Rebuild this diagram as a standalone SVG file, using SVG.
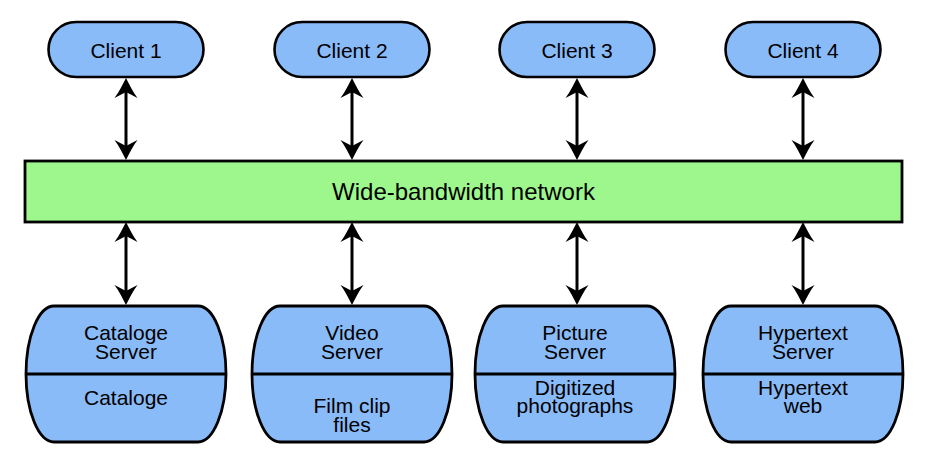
<svg xmlns="http://www.w3.org/2000/svg" width="930" height="462" viewBox="0 0 930 462">
<defs>
<style>
.client{fill:#88bbf8;stroke:#000;stroke-width:2.6}
.server{fill:#88bbf8;stroke:#000;stroke-width:2.8}
.net{fill:#9df78d;stroke:#000;stroke-width:2.8}
.div{stroke:#000;stroke-width:2.8;fill:none}
.t{font-family:"Liberation Sans",Arial,sans-serif;font-size:21px;fill:#000;text-anchor:middle}
.tn{font-family:"Liberation Sans",Arial,sans-serif;font-size:24px;fill:#000;text-anchor:middle}
.conn{stroke:#000;stroke-width:3;fill:none;marker-start:url(#ah);marker-end:url(#ah)}
</style>
<marker id="ah" viewBox="-22 -12 24 24" refX="-12" refY="0" markerWidth="24" markerHeight="24" markerUnits="userSpaceOnUse" orient="auto-start-reverse" overflow="visible">
<path d="M0,0 C-6,-3 -14,-7 -20,-11.5 L-14,0 L-20,11.5 C-14,7 -6,3 0,0 Z" fill="#000"/>
</marker>
</defs>
<rect width="930" height="462" fill="#fff"/>

<g id="connectors">
<path class="conn" d="M126,90 L126,148"/>
<path class="conn" d="M352,90 L352,148"/>
<path class="conn" d="M577,90 L577,148"/>
<path class="conn" d="M803,90 L803,148"/>
<path class="conn" d="M126,234 L126,293"/>
<path class="conn" d="M352,234 L352,293"/>
<path class="conn" d="M577,234 L577,293"/>
<path class="conn" d="M803,234 L803,293"/>
</g>

<g id="client1"><rect class="client" x="48.5" y="22" width="155" height="55" rx="27.5"/><text class="t" x="126" y="58">Client 1</text></g>
<g id="client2"><rect class="client" x="274.5" y="22" width="155" height="55" rx="27.5"/><text class="t" x="352" y="58">Client 2</text></g>
<g id="client3"><rect class="client" x="499.5" y="22" width="155" height="55" rx="27.5"/><text class="t" x="577" y="58">Client 3</text></g>
<g id="client4"><rect class="client" x="725.5" y="22" width="155" height="55" rx="27.5"/><text class="t" x="803" y="58">Client 4</text></g>

<g id="network"><rect class="net" x="25" y="161" width="877" height="61"/><text class="tn" x="463.5" y="200">Wide-bandwidth network</text></g>

<g id="server1">
<path class="server" d="M54,306 H198 A28,68 0 0 1 198,442 H54 A28,68 0 0 1 54,306 Z"/>
<line class="div" x1="26" y1="374" x2="226" y2="374"/>
<text class="t" x="126" y="340">Cataloge</text><text class="t" x="126" y="359">Server</text>
<text class="t" x="126" y="405">Cataloge</text>
</g>
<g id="server2">
<path class="server" d="M280,306 H424 A28,68 0 0 1 424,442 H280 A28,68 0 0 1 280,306 Z"/>
<line class="div" x1="252" y1="374" x2="452" y2="374"/>
<text class="t" x="352" y="340">Video</text><text class="t" x="352" y="359">Server</text>
<text class="t" x="352" y="413">Film clip</text><text class="t" x="352" y="432">files</text>
</g>
<g id="server3">
<path class="server" d="M503,306 H647 A28,68 0 0 1 647,442 H503 A28,68 0 0 1 503,306 Z"/>
<line class="div" x1="475" y1="374" x2="675" y2="374"/>
<text class="t" x="575" y="340">Picture</text><text class="t" x="575" y="359">Server</text>
<text class="t" x="575" y="395">Digitized</text><text class="t" x="575" y="413">photographs</text>
</g>
<g id="server4">
<path class="server" d="M731,306 H875 A28,68 0 0 1 875,442 H731 A28,68 0 0 1 731,306 Z"/>
<line class="div" x1="703" y1="374" x2="903" y2="374"/>
<text class="t" x="803" y="340">Hypertext</text><text class="t" x="803" y="359">Server</text>
<text class="t" x="803" y="395">Hypertext</text><text class="t" x="803" y="413">web</text>
</g>
</svg>
